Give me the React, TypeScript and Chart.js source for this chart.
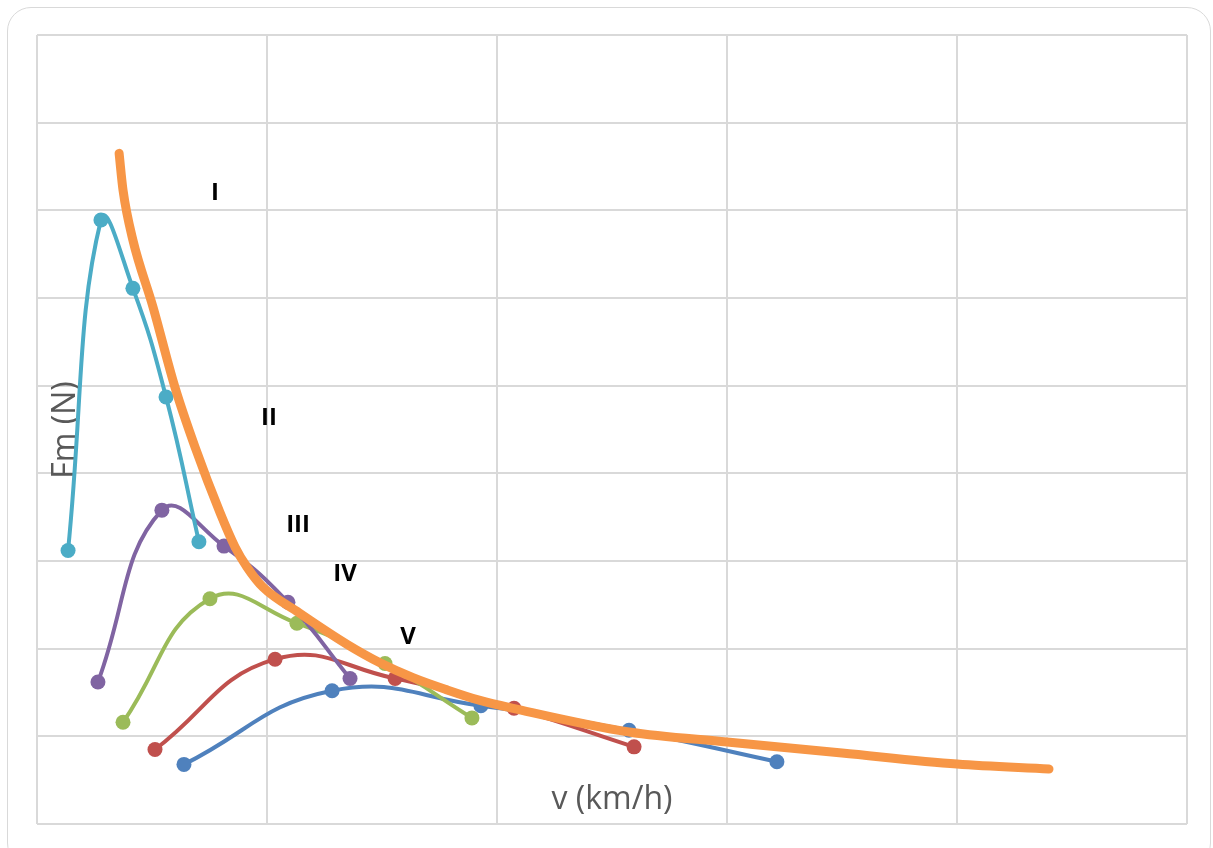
import React, { useEffect, useRef } from "react";
import { Chart, registerables } from "chart.js";

Chart.register(...registerables);

// Series I (cyan)
const s1X = [1.35, 2.78, 4.17, 5.61, 7.04];
const s1Y = [312, 689, 611, 487, 322];
// Series II (purple)
const s2X = [2.65, 5.43, 8.13, 10.91, 13.61];
const s2Y = [162, 358, 317, 253, 166];
// Series III (green)
const s3X = [3.74, 7.52, 11.3, 15.13, 18.91];
const s3Y = [116, 257, 229, 183, 121];
// Series IV (red)
const s4X = [5.13, 10.35, 15.57, 20.74, 25.96];
const s4Y = [85, 188, 166, 132, 88];
// Series V (blue)
const s5X = [6.39, 12.83, 19.3, 25.74, 32.17];
const s5Y = [68, 152, 135, 107, 71];
// Envelope (orange)
const envX = [3.57, 3.74, 4.17, 5.04, 6.0, 6.87, 7.96, 8.61, 9.13, 9.83, 11.39, 13.48, 14.91, 16.35, 17.83, 19.26, 20.7, 25.74, 30.0, 35.0, 40.0, 44.0];
const envY = [765, 723, 666, 590, 498, 430, 355, 316, 293, 270, 241, 205, 184, 167, 153, 141, 132, 105, 93.5, 81, 68.4, 62.7];

// Gear labels
const gearNames = ["I", "II", "III", "IV", "V"];
const gearX = [7.74, 10.09, 11.35, 13.39, 16.13];
const gearY = [720, 463, 341, 285, 213];

const xTitle = "v (km/h)";
const yTitle = "Fm (N)";

const colors = ["#4bacc6", "#8064a2", "#9bbb59", "#c0504d", "#4f81bd"];

function pts(xs: number[], ys: number[]) {
  return xs.map((x, i) => ({ x, y: ys[i] }));
}

const textPlugin = {
  id: "texts",
  beforeDatasetsDraw(chart: any) {
    const ctx = chart.ctx;
    ctx.save();
    ctx.fillStyle = "#595959";
    ctx.font = '32px "Open Sans"';
    ctx.textAlign = "center";
    ctx.textBaseline = "middle";
    ctx.fillText(xTitle, 612, 800);
    ctx.translate(66, 430);
    ctx.rotate(-Math.PI / 2);
    ctx.fillText(yTitle, 0, 0);
    ctx.restore();
  },
  afterDatasetsDraw(chart: any) {
    const ctx = chart.ctx;
    const xs = chart.scales.x;
    const ys = chart.scales.y;
    ctx.save();
    ctx.fillStyle = "#000000";
    ctx.font = 'bold 24px "Open Sans"';
    ctx.textAlign = "center";
    ctx.textBaseline = "middle";
    gearNames.forEach((n, i) => {
      ctx.fillText(n, xs.getPixelForValue(gearX[i]), ys.getPixelForValue(gearY[i]));
    });
    ctx.restore();
  },
};

export default function App() {
  const ref = useRef<HTMLCanvasElement>(null);
  useEffect(() => {
    document.body.style.overflow = "hidden";
    const series = [
      [s1X, s1Y],
      [s2X, s2Y],
      [s3X, s3Y],
      [s4X, s4Y],
      [s5X, s5Y],
    ];
    const datasets: any[] = [
      {
        label: "envelope",
        data: pts(envX, envY),
        borderColor: "#f79646",
        borderWidth: 9,
        borderCapStyle: "round",
        borderJoinStyle: "round",
        pointRadius: 0,
        cubicInterpolationMode: "monotone",
        order: 0,
      },
      ...series.map((s, i) => ({
        label: gearNames[i],
        data: pts(s[0], s[1]),
        borderColor: colors[i],
        backgroundColor: colors[i],
        borderWidth: 4,
        pointRadius: 7.5,
        pointBorderWidth: 0,
        tension: 0.45,
        order: 1,
      })),
    ];
    const chart = new Chart(ref.current!, {
      type: "line",
      data: { datasets },
      options: {
        animation: false,
        responsive: false,
        maintainAspectRatio: false,
        layout: { padding: { left: 37, top: 35, right: 26, bottom: 24 } },
        plugins: { legend: { display: false }, tooltip: { enabled: false } },
        scales: {
          x: {
            type: "linear",
            min: 0,
            max: 50,
            ticks: { display: false, stepSize: 10 },
            grid: { color: "#d9d9d9", lineWidth: 2, drawTicks: false },
            border: { display: false },
          },
          y: {
            type: "linear",
            min: 0,
            max: 900,
            ticks: { display: false, stepSize: 100 },
            grid: { color: "#d9d9d9", lineWidth: 2, drawTicks: false },
            border: { display: false },
          },
        },
      },
      plugins: [textPlugin],
    });
    return () => chart.destroy();
  }, []);
  return (
    <div>
      <div
        style={{
          position: "fixed",
          left: 7,
          top: 7,
          width: 1204,
          height: 860,
          border: "1.5px solid #d9d9d9",
          borderRadius: 24,
          boxSizing: "border-box",
          background: "#fff",
        }}
      />
      <canvas
        ref={ref}
        width={1213}
        height={848}
        style={{ position: "fixed", left: 0, top: 0, width: 1213, height: 848 }}
      />
    </div>
  );
}
